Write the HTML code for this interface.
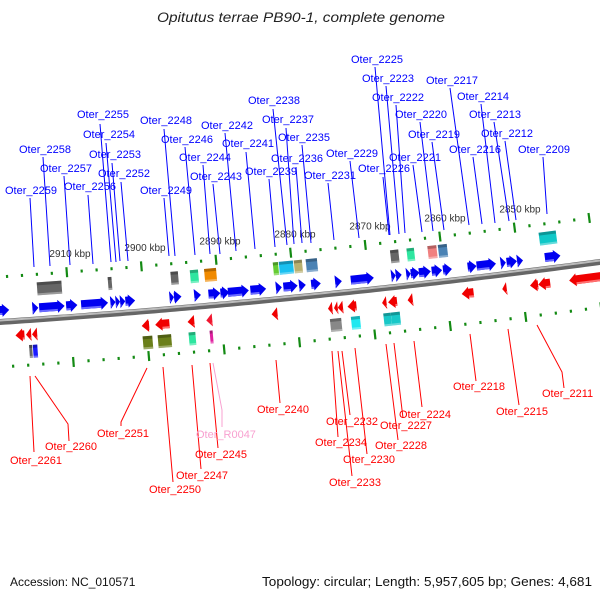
<!DOCTYPE html>
<html><head><meta charset="utf-8"><style>
body{margin:0;background:#fff;}
svg{display:block;font-family:"Liberation Sans",sans-serif;}
</style></head><body>
<svg id="map" width="600" height="600" viewBox="0 0 600 600" xmlns="http://www.w3.org/2000/svg">
<text x="157" y="22" font-size="14" font-style="italic" textLength="288" lengthAdjust="spacingAndGlyphs" fill="#222">Opitutus terrae PB90-1, complete genome</text>
<g id="backbone"></g>
<g id="ticks"></g>
<g id="genes"></g>
<g id="labels" font-size="11"></g>
<text x="10" y="586" font-size="12" fill="#111">Accession: NC_010571</text>
<text x="262" y="586" font-size="13" textLength="330" lengthAdjust="spacingAndGlyphs" fill="#111">Topology: circular; Length: 5,957,605 bp; Genes: 4,681</text>
</svg>
<script>
// ---- data (kbp) ----
const tickKbp = [2910, 2900, 2890, 2880, 2870, 2860, 2850];
const tickLabels = ["2910 kbp","2900 kbp","2890 kbp","2880 kbp","2870 kbp","2860 kbp","2850 kbp"];
const fwdStart = [2919.3,2914.9,2914.0,2910.4,2908.4,2904.5,2903.8,2903.2,2902.5,2896.6,2896.0,2893.3,2891.4,2889.8,2888.8,2885.8,2882.4,2881.4,2879.3,2877.7,2874.5,2872.4,2867.0,2866.4,2865.0,2864.4,2863.3,2861.6,2860.1,2856.8,2855.6,2852.4,2851.6,2850.2,2846.5];
const fwdEnd   = [2918.0,2914.1,2910.6,2908.9,2904.8,2903.8,2903.2,2902.5,2901.2,2896.0,2895.0,2892.4,2889.8,2888.6,2886.0,2883.7,2881.6,2879.5,2878.4,2876.4,2873.6,2869.3,2866.4,2865.6,2864.4,2863.2,2861.7,2860.2,2858.9,2855.6,2853.0,2851.7,2850.2,2849.4,2844.4];
const revStart = [2917.4,2916.0,2915.2,2900.6,2898.8,2894.5,2892.0,2883.3,2875.8,2875.0,2874.5,2873.2,2868.6,2867.8,2865.2,2858.0,2852.6,2848.9,2847.8,2843.7];
const revEnd   = [2916.2,2915.3,2914.5,2899.6,2896.9,2893.6,2891.2,2882.5,2875.2,2874.5,2873.8,2872.0,2868.0,2866.6,2864.5,2856.4,2852.0,2847.8,2846.2,2839.3];
const upBoxStart = [2914.1,2904.6,2896.2,2893.6,2891.7,2882.5,2881.7,2879.7,2878.1,2866.8,2864.6,2861.8,2860.4,2846.9];
const upBoxEnd   = [2910.8,2904.1,2895.2,2892.5,2890.1,2881.8,2879.8,2878.6,2876.6,2865.7,2863.6,2860.6,2859.2,2844.6];
const upBoxColor = ["#666","#666","#666","#2ee6a0","#f08a00","#6c3","#1ac0f0","#b8b070","#4a82b4","#666","#2ee6a0","#f08080","#4a82b4","#10c8c8"];
const loBoxStart = [2915.7,2915.2,2900.6,2898.6,2894.5,2891.7,2875.7,2872.9,2868.6,2867.6];
const loBoxEnd   = [2915.3,2914.6,2899.3,2896.8,2893.6,2891.3,2874.2,2871.7,2867.6,2866.4];
const loBoxColor = ["#666","#1a1aff","#6b7f1a","#6b7f1a","#2ee6a0","#e020a0","#888","#20e8f0","#18c8c8","#18c8c8"];

// ---- axis functions ----
function xOf(k){ return 70 + (2910 - k) * 7.5; }
function yb(x){ return 322 - 0.0667*x - 0.0000556*x*x; }
function ang(x){ return Math.atan(-0.0667 - 0.0001112*x) * 180 / Math.PI; }
const NS = "http://www.w3.org/2000/svg";
function mk(tag, attrs, parent){ const e=document.createElementNS(NS,tag); for(const k in attrs) e.setAttribute(k, attrs[k]); parent.appendChild(e); return e; }

// backbone
const bbG = document.getElementById('backbone');
let d = "";
for (let x = -5; x <= 605; x += 5) d += (x === -5 ? "M" : "L") + x + "," + yb(x).toFixed(2);
const bb1 = mk('path', {d: d, fill: 'none', stroke: '#666', 'stroke-width': 6}, bbG);


const bb2 = mk('path', {d: d, fill: 'none', stroke: '#bbb', 'stroke-width': 2, transform: 'translate(0,-1.5)'}, bbG);



// ticks
const tG = document.getElementById('ticks');
for (let k = 2920; k >= 2836; k -= 2) {
  const x = xOf(k); if (x < -5 || x > 605) continue;
  const major = (k % 10 === 0);
  [-45, 45].forEach(function(off){
    const g = mk('g', {transform: 'translate(' + x.toFixed(1) + ',' + yb(x).toFixed(1) + ') rotate(' + ang(x).toFixed(2) + ')'}, tG);
    const r = major ? mk('rect', {x: -1, y: off - 5, width: 2.2, height: 10, fill: '#138a13'}, g)
                    : mk('rect', {x: -1, y: off - 1.5, width: 2.2, height: 3, fill: '#138a13'}, g);
    
    
  });
}
tickKbp.forEach(function(k, i){
  const x = xOf(k);
  const t = mk('text', {x: x.toFixed(1), y: (yb(x) - 60).toFixed(1), 'font-size': 10, 'text-anchor': 'middle', fill: '#333'}, tG);
  t.textContent = tickLabels[i];
  
  
});

// genes
const gG = document.getElementById('genes');
function place(x){ return 'translate(' + x.toFixed(1) + ',' + yb(x).toFixed(1) + ') rotate(' + ang(x).toFixed(2) + ')'; }
function arrow(k1, k2, fwd, color, shade, name){
  const x1 = xOf(k1), x2 = xOf(k2), L = Math.max(2, x2 - x1);
  const g = mk('g', {transform: place(x1)}, gG);
  const top = fwd ? -18 : 8, bot = fwd ? -5 : 21, bt = top + 2, bb = bot - 2;
  const h = Math.min(7, L);
  let pts;
  if (fwd) pts = [[0,bt],[L-h,bt],[L-h,top],[L,(top+bot)/2],[L-h,bot],[L-h,bb],[0,bb]];
  else pts = [[L,bt],[h,bt],[h,top],[0,(top+bot)/2],[h,bot],[h,bb],[L,bb]];
  if (L <= 7) pts = fwd ? [[0,top],[L,(top+bot)/2],[0,bot]] : [[L,top],[0,(top+bot)/2],[L,bot]];
  const p = mk('polygon', {points: pts.map(function(q){return q[0].toFixed(1)+','+q[1];}).join(' '), fill: color}, g);
  
  
  const s = mk('rect', {x: fwd ? 0 : (L<=7?L-1:h), y: bb - 2, width: L<=7?1:(L - h), height: 2, fill: shade}, g);
  
  
}
function box(k1, k2, up, color, name){
  const x1 = xOf(k1), x2 = xOf(k2), L = Math.max(2, x2 - x1);
  const g = mk('g', {transform: place(x1)}, gG);
  const top = up ? -37 : 25;
  const r = mk('rect', {x: 0, y: top, width: L.toFixed(1), height: 13, fill: color}, g);
  
  
  const s = mk('rect', {x: 0, y: top, width: L.toFixed(1), height: 3, fill: '#000', opacity: 0.25}, g);
  
  
  const s2 = mk('rect', {x: 0, y: top + 11, width: L.toFixed(1), height: 2, fill: '#fff', opacity: 0.35}, g);
  
  
}
fwdStart.forEach(function(k, i){ arrow(k, fwdEnd[i], true, '#0000f0', '#6a6aff', 'forward-gene'); });
revStart.forEach(function(k, i){ arrow(k, revEnd[i], false, i === 6 ? '#f01830' : '#f00000', '#ff7070', 'reverse-gene'); });
upBoxStart.forEach(function(k, i){ box(k, upBoxEnd[i], true, upBoxColor[i], 'forward-feature'); });
loBoxStart.forEach(function(k, i){ box(k, loBoxEnd[i], false, loBoxColor[i], 'reverse-feature'); });

// labels: [text, textX, baseline, polyline points]
const blueLabels = [
 ["Oter_2259",5,194,"30,198 34,267"],["Oter_2258",19,153,"43,157 50,266"],["Oter_2257",40,172,"64,176 70,265"],
 ["Oter_2256",64,190,"88,195 93,264"],["Oter_2255",77,118,"100,124 111,262"],["Oter_2254",83,138,"106,143 116,262"],
 ["Oter_2253",89,158,"112,163 120,261"],["Oter_2252",98,177,"121,182 128,261"],["Oter_2248",140,124,"164,129 175,256"],
 ["Oter_2249",140,194,"164,198 169,256"],["Oter_2246",161,143,"185,147 195,255"],["Oter_2244",179,161,"203,165 210,254"],
 ["Oter_2243",190,180,"213,184 220,254"],["Oter_2242",201,129,"225,133 236,251"],["Oter_2241",222,147,"246,152 255,249"],
 ["Oter_2239",245,175,"269,179 275,247"],["Oter_2238",248,104,"273,109 287,245"],["Oter_2237",262,123,"286,128 294,244"],
 ["Oter_2235",278,141,"302,145 311,243"],["Oter_2236",271,162,"296,167 302,243"],["Oter_2231",304,179,"328,183 334,240"],
 ["Oter_2229",326,157,"350,161 359,238"],["Oter_2225",351,63,"375,67 390,235"],["Oter_2223",362,82,"386,86 399,234"],
 ["Oter_2222",372,101,"396,105 405,233"],["Oter_2226",358,172,"383,177 389,235"],["Oter_2220",395,118,"420,122 433,231"],
 ["Oter_2221",389,161,"413,165 422,232"],["Oter_2219",408,138,"432,142 444,230"],["Oter_2217",426,84,"450,88 469,225"],
 ["Oter_2214",457,100,"481,104 495,223"],["Oter_2213",469,118,"494,122 509,221"],["Oter_2216",449,153,"473,157 482,224"],
 ["Oter_2212",481,137,"505,141 516,220"],["Oter_2209",518,153,"543,157 547,214"]
];
const redLabels = [
 ["Oter_2261",10,464,"30,376 34,452","#f00"],["Oter_2260",45,450,"35,376 68,424 69,441","#f00"],
 ["Oter_2251",97,437,"147,368 121,422 121,426","#f00"],["Oter_2250",149,493,"163,367 173,482","#f00"],
 ["Oter_2247",176,479,"192,365 201,469","#f00"],["Oter_2245",195,458,"210,363 218,448","#f00"],
 ["Oter_R0047",196,438,"213,363 222,410 222,427","#f8a0d0"],["Oter_2240",257,413,"276,360 280,403","#f00"],
 ["Oter_2232",326,425,"342,351 350,415","#f00"],["Oter_2234",315,446,"332,351 338,437","#f00"],
 ["Oter_2230",343,463,"355,348 367,454","#f00"],["Oter_2233",329,486,"338,351 352,476","#f00"],
 ["Oter_2228",375,449,"386,344 398,440","#f00"],["Oter_2227",380,429,"394,343 403,418","#f00"],
 ["Oter_2224",399,418,"414,341 422,407","#f00"],["Oter_2218",453,390,"470,334 476,381","#f00"],
 ["Oter_2215",496,415,"508,329 519,405","#f00"],["Oter_2211",542,397,"537,325 562,372 564,388","#f00"]
];
const lG = document.getElementById('labels');
blueLabels.forEach(function(l){
  const pl = mk('polyline', {points: l[3], fill: 'none', stroke: '#0000ff', 'stroke-width': 1}, lG);
  
  
  const t = mk('text', {x: l[1], y: l[2], fill: '#0000ff'}, lG);
  t.textContent = l[0];
  
  
});
redLabels.forEach(function(l){
  const pl = mk('polyline', {points: l[3], fill: 'none', stroke: l[4], 'stroke-width': 1}, lG);
  
  
  const t = mk('text', {x: l[1], y: l[2], fill: l[4]}, lG);
  t.textContent = l[0];
  
  
});
</script>
</body></html>
